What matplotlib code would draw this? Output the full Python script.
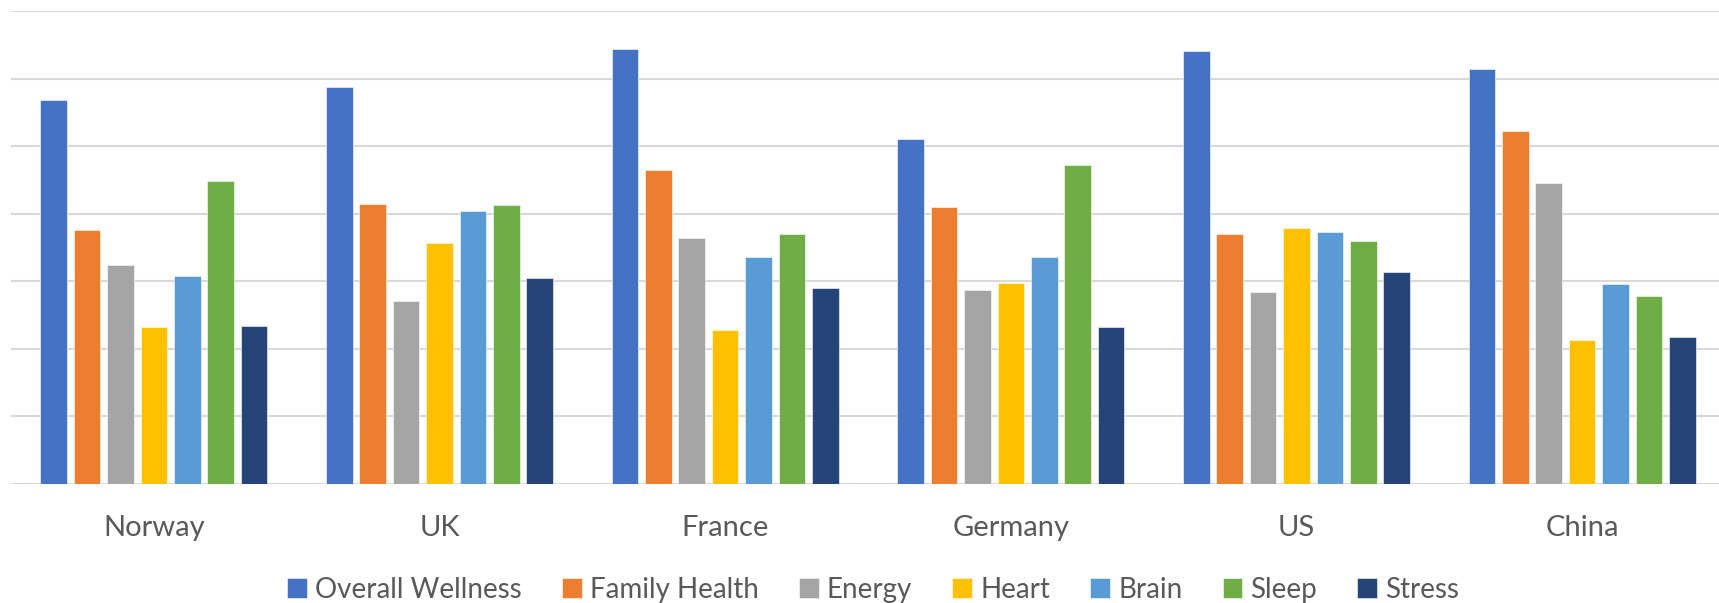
import numpy as np
import matplotlib
matplotlib.use("Agg")
import matplotlib.pyplot as plt

# Data (in gridline units)
countries = ["Norway", "UK", "France", "Germany", "US", "China"]
series = ["Overall Wellness", "Family Health", "Energy", "Heart", "Brain", "Sleep", "Stress"]
overall_wellness = [5.68, 5.88, 6.43, 5.10, 6.41, 6.14]
family_health = [3.75, 4.14, 4.64, 4.09, 3.69, 5.22]
energy = [3.23, 2.71, 3.64, 2.86, 2.84, 4.45]
heart = [2.32, 3.57, 2.27, 2.97, 3.79, 2.13]
brain = [3.08, 4.03, 3.36, 3.36, 3.73, 2.95]
sleep = [4.48, 4.12, 3.70, 4.72, 3.60, 2.78]
stress = [2.34, 3.04, 2.89, 2.32, 3.14, 2.17]

values = [overall_wellness, family_health, energy, heart, brain, sleep, stress]
colors = ["#4472C4", "#ED7D31", "#A5A5A5", "#FFC000", "#5B9BD5", "#70AD47", "#264478"]

plt.rcParams["font.family"] = ["Lato", "DejaVu Sans"]

fig = plt.figure(figsize=(17.19, 6.03), dpi=100)
ax = fig.add_axes([11 / 1719, 1 - 483.5 / 603, 1714 / 1719, (483.5 - 11) / 603])

x = np.arange(len(countries))
pitch = 0.117
width = 0.093
for i, (name, vals, c) in enumerate(zip(series, values, colors)):
    offset = (i - 3) * pitch
    ax.bar(x + offset, vals, width=width, color=c, label=name, zorder=3,
           edgecolor="white", linewidth=0.4)

ax.set_xlim(-0.5, len(countries) - 0.5)
ax.set_ylim(0, 7)
ax.set_yticks(np.arange(0, 8, 1))
ax.yaxis.grid(True, color="#d9d9d9", linewidth=1.5, zorder=0)
ax.tick_params(axis="y", left=False, labelleft=False)
ax.tick_params(axis="x", bottom=False, pad=19, labelsize=21, labelcolor="#595959")
ax.set_xticks(x)
ax.set_xticklabels(countries)
for s in ["top", "right", "left", "bottom"]:
    ax.spines[s].set_visible(False)

fig.legend(loc="center", bbox_to_anchor=(0.508, 0.022), ncol=7, frameon=False,
           fontsize=20, labelcolor="#595959", handlelength=0.7, handleheight=0.7,
           handletextpad=0.3, columnspacing=1.45, borderaxespad=0)

fig.savefig("out.png", dpi=100)
